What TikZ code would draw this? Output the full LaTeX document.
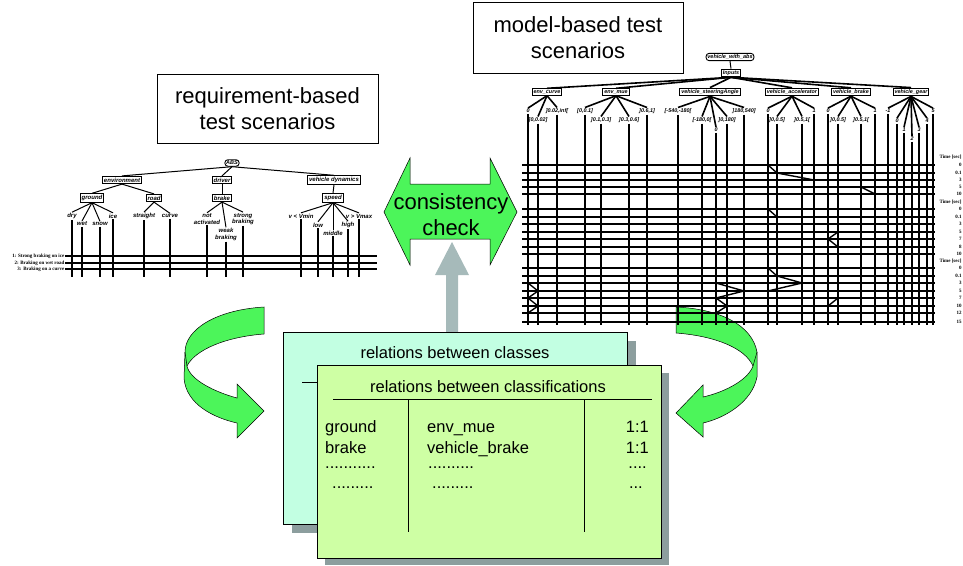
\documentclass[tikz,border=0pt]{standalone}
\usepackage{fontspec}
\setmainfont{Liberation Sans}
\newfontfamily\timesfont{Liberation Serif}
\usetikzlibrary{positioning}

\definecolor{arrowgreen}{RGB}{76,245,90}
\definecolor{cardcyan}{RGB}{194,255,226}
\definecolor{cardgreen}{RGB}{206,255,164}
\definecolor{shadowgrey}{RGB}{140,158,158}
\definecolor{liftgrey}{RGB}{166,186,186}

\tikzset{
  titlebox/.style={draw, line width=0.6pt, fill=white, align=center, inner sep=0pt,
    font=\fontsize{22}{25.5}\selectfont},
  rootbox/.style={draw, rounded corners=3pt, line width=0.9pt, inner sep=1.3pt,
    font=\fontsize{5.5}{6}\selectfont\bfseries\itshape},
  classbox/.style={draw, line width=1pt, inner sep=1.4pt,
    font=\fontsize{6}{7}\selectfont\bfseries\itshape},
  rclassbox/.style={classbox, font=\fontsize{5.4}{6}\selectfont\bfseries\itshape},
  classlbl/.style={inner sep=0.8pt, align=center,
    font=\fontsize{6}{6.6}\selectfont\bfseries\itshape},
  rclasslbl/.style={inner sep=0.8pt, font=\fontsize{5.4}{6}\selectfont\bfseries\itshape},
  treeline/.style={line width=1pt},
  thicktree/.style={line width=1.6pt},
  gridline/.style={line width=1.4pt},
  rowlbl/.style={anchor=east, inner sep=0.5pt, font=\timesfont\bfseries\fontsize{5}{5}\selectfont},
  timelbl/.style={anchor=east, inner sep=0.3pt, font=\timesfont\bfseries\fontsize{5}{5}\selectfont},
  cardtext/.style={inner sep=0pt, font=\fontsize{16.5}{18}\selectfont},
  bigarrow/.style={draw, line width=0.5pt, fill=arrowgreen},
}

\begin{document}
\begin{tikzpicture}[x=1pt, y=-1pt]
\useasboundingbox (0,0) rectangle (963,565);

% titles
\node[titlebox, minimum width=221, minimum height=69] (reqtitle) at (267.5,108.5) {requirement-based\\test scenarios};
\node[titlebox, minimum width=210, minimum height=71] (modeltitle) at (578,37.5) {model-based test\\scenarios};

% ---- requirement based tree ----
\node[rootbox] (abs) at (232,163) {ABS};
\node[classbox] (environment) at (122,180) {environment};
\node[classbox] (driver) at (222,180) {driver};
\node[classbox] (vdyn) at (334,180) {vehicle dynamics};
\node[classbox] (ground) at (92,198) {ground};
\node[classbox] (road) at (154,198) {road};
\node[classbox] (brakeL) at (222,198) {brake};
\node[classbox] (speed) at (333,198) {speed};

\node[classlbl] (dry) at (72,216) {dry};
\node[classlbl] (wet) at (82,224) {wet};
\node[classlbl] (snow) at (100,224) {snow};
\node[classlbl] (ice) at (113,216) {ice};
\node[classlbl] (straight) at (144,216) {straight};
\node[classlbl] (curve) at (170,216) {curve};
\node[classlbl] (notact) at (207,219) {not\\activated};
\node[classlbl] (weak) at (226,234.5) {weak\\braking};
\node[classlbl] (strong) at (243,219) {strong\\braking};
\node[classlbl] (vmin) at (301,216) {v < Vmin};
\node[classlbl] (low) at (318,225) {low};
\node[classlbl] (middle) at (333,233) {middle};
\node[classlbl] (high) at (348,225) {high};
\node[classlbl] (vmax) at (359,216) {v > Vmax};

\foreach \a/\b in {abs/environment, abs/driver, abs/vdyn, environment/ground, environment/road,
  driver/brakeL, vdyn/speed, ground/dry, ground/wet, ground/snow, ground/ice, road/straight,
  road/curve, brakeL/notact, brakeL/weak, brakeL/strong, speed/vmin, speed/low, speed/middle,
  speed/high, speed/vmax}
  \draw[treeline] (\a.south) -- (\b.north);

\coordinate (lbot) at (0,277);
\foreach \c in {dry, wet, snow, ice, straight, curve, notact, weak, strong, vmin, low, middle, high, vmax}
  \draw[gridline] (\c.south) -- (\c.south |- lbot);

\foreach \n/\y/\t in {1/256/Strong braking on ice, 2/263/Braking on wet road, 3/269/Braking on a curve} {
  \node[rowlbl] (row\n) at (65,\y) {\n: \t};
  \draw[gridline] (row\n.east) -- ++(312,0);
}
\foreach \x/\y in {113/256, 144/256, 243/256, 348/256, 82/263, 144/263, 226/263, 318/263,
  100/269, 170/269, 243/269, 333/269}
  \fill (\x,\y) circle (1.7);

% ---- consistency check ----
\fill[liftgrey] (446,334) -- (446,275) -- (435,275) -- (452,242) -- (469,275) -- (458,275) -- (458,334) -- cycle;
\draw[bigarrow] (384,212) -- (410,158) -- (410,184) -- (490,184) -- (490,158) -- (517,212)
  -- (490,265) -- (490,239) -- (410,239) -- (410,265) -- cycle;
\node[align=center, inner sep=0pt, font=\fontsize{22}{26}\selectfont] (check) at (451,215) {consistency\\check};

% ---- curved arrows ----
\draw[bigarrow] (264,307) .. controls (215,310) and (185,330) .. (185,352) -- (184,378)
  .. controls (186,405) and (215,418) .. (237,423) -- (237,438) -- (264,411) -- (237,384) -- (237,398)
  .. controls (215,392) and (190,380) .. (187,366) .. controls (195,350) and (225,337) .. (264,334) -- cycle;
\draw[line width=0.5pt] (185,352) -- (187,366);
\draw[bigarrow] (676,307) .. controls (720,309) and (752,325) .. (757,352) -- (757,377)
  .. controls (752,402) and (725,418) .. (703,423) -- (703,437) -- (676,413) -- (703,385) -- (703,397)
  .. controls (725,392) and (748,380) .. (753,366) .. controls (745,348) and (715,336) .. (676,333) -- cycle;
\draw[line width=0.5pt] (757,352) -- (753,366);

% ---- model based tree ----
\node[rootbox] (vwa) at (730,57) {vehicle\_with\_abs};
\node[rclassbox] (inputs) at (731,73) {Inputs};
\node[rclassbox] (envcurve) at (547,92) {env\_curve};
\node[rclassbox] (envmue) at (616,92) {env\_mue};
\node[rclassbox] (steer) at (710,92) {vehicle\_steeringAngle};
\node[rclassbox] (accel) at (792,92) {vehicle\_accelerator};
\node[rclassbox] (vbrake) at (851,92) {vehicle\_brake};
\node[rclassbox] (gear) at (911,92) {vehicle\_gear};

\node[rclasslbl] (cu1) at (528,111) {0};
\node[rclasslbl] (cu2) at (538,120) {]0,0.02]};
\node[rclasslbl] (cu3) at (557,111) {]0.02,inf[};
\node[rclasslbl] (mu1) at (585,111) {[0,0.1]};
\node[rclasslbl] (mu2) at (601,120) {]0.1,0.3]};
\node[rclasslbl] (mu3) at (629,120) {]0.3,0.6]};
\node[rclasslbl] (mu4) at (647,111) {]0.6,1]};
\node[rclasslbl] (st1) at (678,111) {[-540,-180[};
\node[rclasslbl] (st2) at (702,120) {[-180,0[};
\node[rclasslbl] (st3) at (716,130) {0};
\node[rclasslbl] (st4) at (727,120) {]0,180]};
\node[rclasslbl] (st5) at (744,111) {]180,540]};
\node[rclasslbl] (ac1) at (768,111) {0};
\node[rclasslbl] (ac2) at (777,120) {]0,0.5]};
\node[rclasslbl] (ac3) at (802,120) {]0.5,1[};
\node[rclasslbl] (ac4) at (814,111) {1};
\node[rclasslbl] (br1) at (828,111) {0};
\node[rclasslbl] (br2) at (838,120) {]0,0.5]};
\node[rclasslbl] (br3) at (861,120) {]0.5,1[};
\node[rclasslbl] (br4) at (875,111) {1};
\node[rclasslbl] (ge1) at (888,111) {-1};
\node[rclasslbl] (ge2) at (897,121) {0};
\node[rclasslbl] (ge3) at (904,130) {1};
\node[rclasslbl] (ge4) at (912,139) {2};
\node[rclasslbl] (ge5) at (919,130) {3};
\node[rclasslbl] (ge6) at (927,121) {4};
\node[rclasslbl] (ge7) at (933,111) {5};

\draw[treeline] (vwa.south) -- (inputs.north);
\foreach \b in {envcurve, envmue, steer, accel, vbrake, gear}
  \draw[thicktree] (inputs.south) -- (\b.north);
\foreach \a/\b in {envcurve/cu1, envcurve/cu2, envcurve/cu3, envmue/mu1, envmue/mu2, envmue/mu3,
  envmue/mu4, steer/st1, steer/st2, steer/st3, steer/st4, steer/st5, accel/ac1, accel/ac2,
  accel/ac3, accel/ac4, vbrake/br1, vbrake/br2, vbrake/br3, vbrake/br4, gear/ge1, gear/ge2,
  gear/ge3, gear/ge4, gear/ge5, gear/ge6, gear/ge7}
  \draw[thicktree] (\a.south) -- (\b.north);

% test sequences
\coordinate (rbot) at (0,325);
\foreach \c in {cu1, cu2, cu3, mu1, mu2, mu3, mu4, st1, st2, st3, st4, st5, ac1, ac2, ac3, ac4,
  br1, br2, br3, br4, ge1, ge2, ge3, ge4, ge5, ge6, ge7}
  \draw[gridline] (\c.south) -- (\c.south |- rbot);

\foreach \y in {165,173,180,187,194, 209,217,224,232,239,247,254, 268,276,283,291,298,306,313,322}
  \draw[gridline] (522,\y) -- (935,\y);

\foreach \y/\t in {157/Time [sec], 165/0, 173/0.1, 180/3, 187/5, 194/10,
  202/Time [sec], 209/0, 217/0.1, 224/3, 232/5, 239/7, 247/8, 254/10,
  261/Time [sec], 268/0, 276/0.1, 283/3, 291/5, 298/7, 306/10, 313/12, 322/15}
  \node[timelbl] (time\y) at (962,\y) {\t};

\foreach \y/\xs in {165/{528,585,716,768,828,897}, 173/{528,585,716,777,828,904},
  180/{528,585,716,814,828,927}, 187/{528,585,716,768,861,927}, 194/{528,585,716,768,875,897},
  209/{528,629,716,768,828,897}, 217/{528,629,716,777,828,904}, 224/{528,629,716,777,828,912},
  232/{528,629,716,768,838,912}, 239/{528,629,716,768,828,912}, 247/{528,629,716,768,838,912},
  254/{528,629,716,768,838,897}, 268/{528,601,716,768,828,897}, 276/{528,601,716,777,828,904},
  283/{528,601,716,802,828,912}, 291/{538,601,744,768,828,919}, 298/{528,601,716,768,838,919},
  306/{538,601,727,768,828,919}, 313/{528,601,716,768,875,919}, 322/{528,601,716,768,875,897}}
  \foreach \x in \xs \fill (\x,\y) circle (1.8);

\draw[gridline] (768,165) -- (777,173) -- (814,180);
\draw[gridline] (861,187) -- (875,194);
\draw[gridline] (768,209) -- (777,217);
\draw[gridline] (838,232) -- (828,239) -- (838,247);
\draw[gridline] (528,283) -- (538,291) -- (528,298) -- (538,306) -- (528,313);
\draw[gridline] (716,283) -- (744,291) -- (716,298) -- (727,306) -- (716,313);
\draw[gridline] (768,268) -- (777,276) -- (802,283) -- (768,291);
\draw[gridline] (838,298) -- (828,306);

% ---- relation cards ----
\fill[shadowgrey] (292,341) rectangle (636,533);
\draw[fill=cardcyan, line width=0.6pt] (283,332) rectangle (627,524);
\node[cardtext] (classes) at (455,353) {relations between classes};
\draw[line width=0.6pt] (302,382) -- (317,382);
\fill[shadowgrey] (325,373) rectangle (669,565);
\draw[fill=cardgreen, line width=0.6pt] (317,365) rectangle (661,558);
\node[cardtext] (classifs) at (488,387) {relations between classifications};
\draw[line width=0.6pt] (333,399) -- (652,399);
\draw[line width=0.6pt] (408,399) -- (408,532);
\draw[line width=0.6pt] (584,399) -- (584,532);

\node[cardtext, anchor=base west] (left1) at (325,432) {ground};
\node[cardtext, anchor=base west] (mid1) at (427,432) {env\_mue};
\node[cardtext, anchor=base east] (right1) at (649,432) {1:1};
\node[cardtext, anchor=base west] (left2) at (325,453) {brake};
\node[cardtext, anchor=base west] (mid2) at (427,453) {vehicle\_brake};
\node[cardtext, anchor=base east] (right2) at (649,453) {1:1};
\node[cardtext, anchor=base west] (left3) at (325,468) {...........};
\node[cardtext, anchor=base west] (mid3) at (428,468) {..........};
\node[cardtext, anchor=base east] (right3) at (647,468) {....};
\node[cardtext, anchor=base west] (left4) at (332,488) {.........};
\node[cardtext, anchor=base west] (mid4) at (432,488) {.........};
\node[cardtext, anchor=base east] (right4) at (643,488) {...};

\end{tikzpicture}
\end{document}
